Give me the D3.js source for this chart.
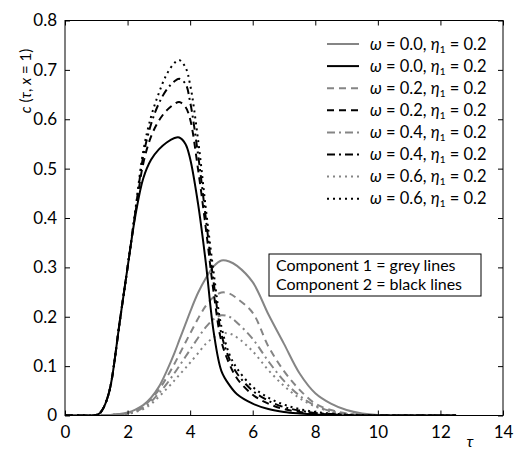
<!DOCTYPE html>
<html>
<head>
<meta charset="utf-8">
<script src="https://cdn.jsdelivr.net/npm/d3@7"></script>
<style>
  body { margin: 0; background: #fff; }
  svg { font-family: Lato, "Open Sans", sans-serif; }
  .tick text { font-size: 17px; fill: #000; }
  .line { fill: none; stroke-width: 2; }
</style>
</head>
<body>
<div id="chart"></div>
<script>
// tau grid shared by all curves
var tau = [0, 0.5, 0.9, 1.1, 1.25, 1.4, 1.5, 1.75, 2.0, 2.25, 2.5, 2.75, 3.0, 3.25, 3.5, 3.65, 3.85, 4.0,
  4.25, 4.5, 4.75, 5.0, 5.25, 5.5, 6.0, 6.5, 7.0, 7.5, 8.0, 8.5, 9.0, 9.5, 10, 11, 12.5];

// component 1 (grey)
var grey00 = [0, 0, 0, 0, 0.0005, 0.001, 0.0015, 0.003, 0.006, 0.012, 0.021, 0.036, 0.058, 0.09, 0.127, 0.152, 0.185, 0.21,
  0.248, 0.278, 0.302, 0.314, 0.312, 0.303, 0.27, 0.205, 0.145, 0.085, 0.045, 0.024, 0.011, 0.004, 0.001, 0, 0];
var grey02 = [0, 0, 0, 0, 0.0005, 0.001, 0.0015, 0.003, 0.005, 0.01, 0.019, 0.033, 0.052, 0.077, 0.105, 0.123, 0.148, 0.166,
  0.196, 0.222, 0.24, 0.249, 0.247, 0.237, 0.208, 0.14, 0.09, 0.052, 0.024, 0.011, 0.004, 0.001, 0, 0, 0];
var grey04 = [0, 0, 0, 0, 0.0005, 0.001, 0.0015, 0.0025, 0.004, 0.008, 0.016, 0.028, 0.045, 0.064, 0.086, 0.1, 0.119, 0.133,
  0.157, 0.179, 0.195, 0.203, 0.2, 0.188, 0.155, 0.11, 0.07, 0.04, 0.02, 0.009, 0.003, 0.001, 0, 0, 0];
var grey06 = [0, 0, 0, 0, 0.0005, 0.001, 0.0015, 0.002, 0.003, 0.007, 0.013, 0.023, 0.038, 0.054, 0.071, 0.082, 0.096, 0.107,
  0.126, 0.145, 0.158, 0.166, 0.166, 0.158, 0.13, 0.092, 0.06, 0.035, 0.018, 0.008, 0.003, 0.001, 0, 0, 0];

// component 2 (black)
var black00 = [0, 0, 0, 0.004, 0.018, 0.045, 0.075, 0.19, 0.3, 0.405, 0.48, 0.518, 0.539, 0.553, 0.562, 0.563, 0.55, 0.52,
  0.43, 0.31, 0.17, 0.09, 0.062, 0.043, 0.024, 0.013, 0.007, 0.004, 0.002, 0.001, 0, 0, 0, 0, 0];
var black02 = [0, 0, 0, 0.004, 0.018, 0.045, 0.075, 0.19, 0.3, 0.41, 0.51, 0.565, 0.597, 0.618, 0.631, 0.635, 0.625, 0.6,
  0.5, 0.38, 0.25, 0.15, 0.105, 0.075, 0.042, 0.024, 0.013, 0.007, 0.004, 0.002, 0.001, 0, 0, 0, 0];
var black04 = [0, 0, 0, 0.004, 0.018, 0.045, 0.075, 0.19, 0.3, 0.413, 0.525, 0.59, 0.632, 0.66, 0.677, 0.682, 0.672, 0.635,
  0.53, 0.4, 0.27, 0.165, 0.115, 0.085, 0.05, 0.03, 0.017, 0.01, 0.005, 0.003, 0.001, 0, 0, 0, 0];
var black06 = [0, 0, 0, 0.004, 0.018, 0.045, 0.075, 0.19, 0.3, 0.417, 0.535, 0.605, 0.653, 0.691, 0.714, 0.72, 0.705, 0.67,
  0.56, 0.42, 0.29, 0.18, 0.125, 0.095, 0.058, 0.036, 0.022, 0.013, 0.007, 0.004, 0.002, 0.001, 0, 0, 0];

var omegaLabels = ['0.0', '0.0', '0.2', '0.2', '0.4', '0.4', '0.6', '0.6'];
var etaLabel = '0.2';
var noteLines = ['Component 1 = grey lines', 'Component 2 = black lines'];
var xTicks = [0, 2, 4, 6, 8, 10, 12, 14];
var yTicks = [0, 0.1, 0.2, 0.3, 0.4, 0.5, 0.6, 0.7, 0.8];

var GREY = '#858585';
var dashes = { solid: null, dash: '7,5', dashdot: '8,4,2,4', dot: '2,4' };

// legend order follows the reference
var series = [
  { values: grey00, color: GREY, dash: dashes.solid },
  { values: black00, color: '#000', dash: dashes.solid },
  { values: grey02, color: GREY, dash: dashes.dash },
  { values: black02, color: '#000', dash: dashes.dash },
  { values: grey04, color: GREY, dash: dashes.dashdot },
  { values: black04, color: '#000', dash: dashes.dashdot },
  { values: grey06, color: GREY, dash: dashes.dot },
  { values: black06, color: '#000', dash: dashes.dot }
];

var width = 516;
var height = 450;
var margin = { top: 20.5, right: 13, bottom: 34.5, left: 65 };
var w = width - margin.left - margin.right;
var h = height - margin.top - margin.bottom;

var xScale = d3.scaleLinear().domain([0, 14]).range([0, w]);
var yScale = d3.scaleLinear().domain([0, 0.8]).range([h, 0]);

var line = d3.line()
  .x(function(d) { return xScale(d[0]); })
  .y(function(d) { return yScale(Math.max(0, d[1])); })
  .curve(d3.curveCatmullRom.alpha(0.5));

var svg = d3.select('#chart').append('svg')
  .attr('width', width).attr('height', height);

var g = svg.append('g')
  .attr('transform', 'translate(' + margin.left + ',' + margin.top + ')');

g.append('defs').append('clipPath').attr('id', 'clip')
  .append('rect').attr('width', w).attr('height', h);

// curves: grey first, black on top
var order = [0, 2, 4, 6, 1, 3, 5, 7];
g.append('g').attr('clip-path', 'url(#clip)')
  .selectAll('path')
  .data(order.map(function(i) { return series[i]; }))
  .enter().append('path')
  .attr('class', 'line')
  .attr('stroke', function(d) { return d.color; })
  .attr('stroke-dasharray', function(d) { return d.dash; })
  .attr('d', function(d) {
    return line(tau.map(function(t, i) { return [t, d.values[i]]; }));
  });

// axes, ticks pointing inward (MATLAB style)
function styleAxis(sel) {
  sel.select('.domain').remove();
  sel.selectAll('.tick line').attr('stroke', '#000');
}
g.append('g').attr('transform', 'translate(0,' + h + ')')
  .call(d3.axisBottom(xScale).tickValues(xTicks).tickSize(-5).tickPadding(10).tickFormat(d3.format('d')))
  .call(styleAxis);
g.append('g')
  .call(d3.axisTop(xScale).tickValues(xTicks).tickSize(-5).tickFormat(''))
  .call(styleAxis);
g.append('g')
  .call(d3.axisLeft(yScale).tickValues(yTicks).tickSize(-5).tickPadding(8)
    .tickFormat(function(d) { return d === 0 ? '0' : d3.format('.1f')(d); }))
  .call(styleAxis);
g.append('g').attr('transform', 'translate(' + w + ',0)')
  .call(d3.axisRight(yScale).tickValues(yTicks).tickSize(-5).tickFormat(''))
  .call(styleAxis);

g.append('rect').attr('width', w).attr('height', h)
  .attr('fill', 'none').attr('stroke', '#000').attr('stroke-width', 1);

g.selectAll('.tick text').attr('font-family', 'Lato, "Open Sans", sans-serif').attr('font-size', 17);

// legend
var leg = g.append('g').attr('transform', 'translate(' + (327 - margin.left) + ',' + (44 - margin.top) + ')');
var rows = leg.selectAll('g').data(series).enter().append('g')
  .attr('transform', function(d, i) { return 'translate(0,' + (i * 22.1) + ')'; });
rows.append('line')
  .attr('x1', 0).attr('x2', 32).attr('y1', 0).attr('y2', 0)
  .attr('stroke', function(d) { return d.color; })
  .attr('stroke-width', 2)
  .attr('stroke-dasharray', function(d) { return d.dash; });
var lt = rows.append('text').attr('x', 43).attr('y', 5.5).attr('font-size', 16.5);
lt.append('tspan').attr('font-style', 'italic').text('ω');
lt.append('tspan').text(function(d, i) { return ' = ' + omegaLabels[i] + ', '; });
lt.append('tspan').attr('font-style', 'italic').text('η');
lt.append('tspan').attr('font-size', 10).attr('dy', 3).text('1');
lt.append('tspan').attr('dy', -3).text(' = ' + etaLabel);

// component note box
var note = g.append('g').attr('transform', 'translate(' + (269 - margin.left) + ',' + (254 - margin.top) + ')');
note.append('rect').attr('width', 212).attr('height', 42)
  .attr('fill', '#fff').attr('stroke', '#000').attr('stroke-width', 1);
note.selectAll('text.note').data(noteLines).enter().append('text')
  .attr('class', 'note')
  .attr('x', 7).attr('y', function(d, i) { return 17 + i * 19; })
  .attr('font-size', 16).text(function(d) { return d; });

// axis labels
var yl = svg.append('text')
  .attr('transform', 'translate(31,81) rotate(-90)')
  .attr('text-anchor', 'middle').attr('font-size', 15);
yl.append('tspan').attr('font-style', 'italic').text('c');
yl.append('tspan').text(' (');
yl.append('tspan').attr('font-style', 'italic').text('τ');
yl.append('tspan').text(', ');
yl.append('tspan').attr('font-style', 'italic').text('x');
yl.append('tspan').text(' = 1)');

svg.append('text').attr('x', 470).attr('y', 447)
  .attr('text-anchor', 'middle').attr('font-size', 16).attr('font-style', 'italic').text('τ');
</script>
</body>
</html>
